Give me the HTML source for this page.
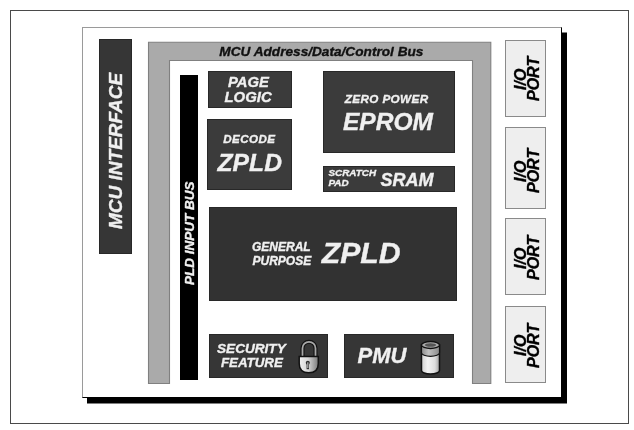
<!DOCTYPE html>
<html><head><meta charset="utf-8">
<style>
html,body{margin:0;padding:0;background:#fff;}
body{width:634px;height:430px;position:relative;overflow:hidden;filter:blur(0.3px);font-family:"Liberation Sans",sans-serif;font-weight:bold;font-style:italic;}
.a{position:absolute;box-sizing:border-box;}
.d{position:absolute;background:#3b3b3b;border:1px solid #282828;box-sizing:border-box;}
.t{position:absolute;white-space:nowrap;line-height:1;color:#f0f0f0;-webkit-text-stroke:0.35px currentColor;}
.io{position:absolute;left:505px;width:41px;background:#eeeeee;border:1px solid #8a8a8a;box-sizing:border-box;}
.rot{position:absolute;white-space:nowrap;line-height:1;transform-origin:0 0;transform:rotate(-90deg);}
</style></head>
<body>
<!-- outer frame -->
<div class="a" style="left:10px;top:10px;width:619px;height:414px;border:1px solid #4a4a4a;"></div>
<!-- inner frame with shadow -->
<div class="a" style="left:82px;top:27px;width:480px;height:371px;border:1px solid #000;border-top-color:#9a9a9a;border-left-color:#9a9a9a;background:#fff;box-shadow:5px 5.5px 0 #000;"></div>

<!-- MCU interface bar -->
<div class="d" style="left:99px;top:39px;width:33px;height:215px;background:#363636;"></div>
<div class="rot t" style="left:106.3px;top:228.8px;font-size:19px;">MCU INTERFACE</div>

<!-- bus -->
<svg class="a" style="left:0;top:0;" width="634" height="430">
<path d="M148.5 383.5 V42.2 H490.8 V383.5 H472.5 V60.5 H169.5 V383.5 Z" fill="#aaaaaa" stroke="#808080" stroke-width="1.1"/>
</svg>
<div class="t" style="left:219.3px;top:44.7px;font-size:13.65px;color:#111;">MCU Address/Data/Control Bus</div>

<!-- PLD input bus -->
<div class="a" style="left:180px;top:75px;width:18px;height:305px;background:#000;"></div>
<div class="rot t" style="left:183.2px;top:285.4px;font-size:13.5px;">PLD INPUT BUS</div>

<!-- page logic -->
<div class="d" style="left:208px;top:71px;width:84px;height:37px;"></div>
<div class="t" style="left:228px;top:74.5px;font-size:14.8px;">PAGE</div>
<div class="t" style="left:224.5px;top:89.5px;font-size:14.9px;">LOGIC</div>

<!-- decode zpld -->
<div class="d" style="left:207px;top:119px;width:85px;height:71px;"></div>
<div class="t" style="left:223.3px;top:133px;font-size:11.6px;letter-spacing:0.42px;">DECODE</div>
<div class="t" style="left:217.5px;top:150.5px;font-size:24.7px;">ZPLD</div>

<!-- eprom -->
<div class="d" style="left:323px;top:71px;width:132px;height:82px;"></div>
<div class="t" style="left:344.8px;top:93px;font-size:11.7px;letter-spacing:0.38px;">ZERO POWER</div>
<div class="t" style="left:343px;top:110px;font-size:24.5px;">EPROM</div>

<!-- sram -->
<div class="d" style="left:323px;top:166px;width:131.5px;height:25.5px;"></div>
<div class="t" style="left:328.5px;top:168px;font-size:9.9px;">SCRATCH</div>
<div class="t" style="left:328.5px;top:177.6px;font-size:9.9px;">PAD</div>
<div class="t" style="left:380.5px;top:170.5px;font-size:18px;">SRAM</div>

<!-- general purpose zpld -->
<div class="d" style="left:209px;top:207px;width:247.5px;height:93.8px;background:#323232;"></div>
<div class="t" style="left:252px;top:240.5px;font-size:12px;">GENERAL</div>
<div class="t" style="left:252.5px;top:255px;font-size:12px;">PURPOSE</div>
<div class="t" style="left:321.8px;top:238px;font-size:30.2px;">ZPLD</div>

<!-- security -->
<div class="d" style="left:209px;top:334px;width:119px;height:44px;background:#363636;"></div>
<div class="t" style="left:217px;top:341.8px;font-size:13.6px;">SECURITY</div>
<div class="t" style="left:221px;top:355.5px;font-size:13.3px;">FEATURE</div>

<!-- pmu -->
<div class="d" style="left:344px;top:334px;width:110px;height:44px;background:#363636;"></div>
<div class="t" style="left:357.5px;top:344.5px;font-size:22px;">PMU</div>

<!-- icons -->
<svg class="a" style="left:0;top:0;" width="634" height="430">
<defs>
<linearGradient id="lg" x1="0" x2="1" y1="0" y2="0"><stop offset="0" stop-color="#f0f0f0"/><stop offset="0.45" stop-color="#d8d8d8"/><stop offset="1" stop-color="#7a7a7a"/></linearGradient>
<linearGradient id="bg" x1="0" x2="1" y1="0" y2="0"><stop offset="0" stop-color="#cfcfcf"/><stop offset="0.35" stop-color="#f2f2f2"/><stop offset="0.75" stop-color="#dcdcdc"/><stop offset="1" stop-color="#a0a0a0"/></linearGradient>
<linearGradient id="bb" x1="0" x2="1" y1="0" y2="0"><stop offset="0" stop-color="#8a8a8a"/><stop offset="0.4" stop-color="#c0c0c0"/><stop offset="1" stop-color="#8a8a8a"/></linearGradient>
</defs>
<!-- lock -->
<path d="M302.5 357 V348.3 A6.5 6.5 0 0 1 315.5 348.3 V357" fill="none" stroke="#111" stroke-width="4"/>
<path d="M302.5 357 V348.3 A6.5 6.5 0 0 1 315.5 348.3 V357" fill="none" stroke="#a8a8a8" stroke-width="1.8"/>
<path d="M299.2 356.5 H318.3 V363.5 Q318.3 372.8 308.75 372.8 Q299.2 372.8 299.2 363.5 Z" fill="url(#lg)" stroke="#111" stroke-width="1.5"/>
<circle cx="307.8" cy="362.8" r="2" fill="#2e2e2e"/><rect x="306.6" y="362.8" width="2.4" height="6.4" fill="#2e2e2e"/>
<rect x="307.4" y="362.3" width="0.9" height="5.8" fill="#e0e0e0"/>
<!-- battery --><g transform="translate(0,0)">
<path d="M421.5 345 V370.5 A9 3.5 0 0 0 439.5 370.5 V345 Z" fill="url(#bg)" stroke="#111" stroke-width="1.5"/>
<path d="M421.5 345 V352.8 A9 3.5 0 0 0 439.5 352.8 V345 Z" fill="url(#bb)" stroke="#111" stroke-width="1.2"/>
<ellipse cx="430.5" cy="345" rx="9" ry="3.5" fill="#a8a8a8" stroke="#111" stroke-width="1.3"/>
<ellipse cx="430.5" cy="345" rx="5.5" ry="1.8" fill="#555"/></g>
</svg>

<!-- io ports -->
<div class="io" style="top:40px;height:77px;"></div>
<div class="io" style="top:127px;height:82px;"></div>
<div class="io" style="top:218px;height:77px;"></div>
<div class="io" style="top:306px;height:77px;"></div>
<div class="rot t" style="left:513px;top:90px;font-size:16px;color:#000;">I/O</div>
<div class="rot t" style="left:525.5px;top:101px;font-size:16px;color:#000;">PORT</div>
<div class="rot t" style="left:513px;top:181.5px;font-size:16px;color:#000;">I/O</div>
<div class="rot t" style="left:525.5px;top:193px;font-size:16px;color:#000;">PORT</div>
<div class="rot t" style="left:513px;top:268.5px;font-size:16px;color:#000;">I/O</div>
<div class="rot t" style="left:525.5px;top:279.5px;font-size:16px;color:#000;">PORT</div>
<div class="rot t" style="left:513px;top:356px;font-size:16px;color:#000;">I/O</div>
<div class="rot t" style="left:525.5px;top:367.5px;font-size:16px;color:#000;">PORT</div>

</body></html>
